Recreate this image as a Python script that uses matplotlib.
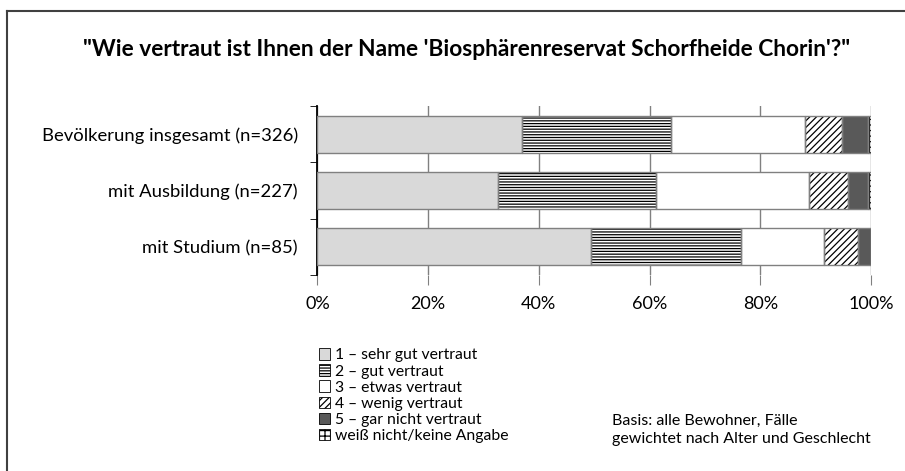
import matplotlib
matplotlib.use("Agg")
import matplotlib.pyplot as plt
from matplotlib.patches import Patch
from matplotlib.lines import Line2D
import numpy as np

plt.rcParams['font.family'] = ['Lato', 'DejaVu Sans']
plt.rcParams['hatch.linewidth'] = 0.9

title = "\"Wie vertraut ist Ihnen der Name 'Biosphärenreservat Schorfheide Chorin'?\""
groups = ["Bevölkerung insgesamt (n=326)", "mit Ausbildung (n=227)", "mit Studium (n=85)"]
answers = ["1 – sehr gut vertraut", "2 – gut vertraut", "3 – etwas vertraut",
           "4 – wenig vertraut", "5 – gar nicht vertraut", "weiß nicht/keine Angabe"]
# percentages per group, one list per answer
sehr_gut = [37.0, 32.6, 49.4]
gut = [26.9, 28.6, 27.1]
etwas = [24.1, 27.6, 15.1]
wenig = [6.8, 7.1, 6.0]
gar_nicht = [4.7, 3.6, 2.4]
weiss_nicht = [0.5, 0.5, 0.0]
note = "Basis: alle Bewohner, Fälle\ngewichtet nach Alter und Geschlecht"

series = [sehr_gut, gut, etwas, wenig, gar_nicht, weiss_nicht]
faces = ["#d9d9d9", "white", "white", "white", "#595959", "white"]
hatches = [None, "------", None, "/////", None, "+++"]

fig = plt.figure(figsize=(9.05, 4.71), dpi=100)
ax = fig.add_axes([0.3508, 0.4161, 0.6116, 0.3588])

y = np.arange(len(groups))
left = np.zeros(len(groups))
for vals, fc, h in zip(series, faces, hatches):
    vals = np.array(vals)
    ax.barh(y, vals, left=left, height=0.66, color=fc, hatch=h,
            edgecolor="black", linewidth=0, zorder=3)
    ax.barh(y, vals, left=left, height=0.66, fill=False,
            edgecolor="#808080", linewidth=1, zorder=4)
    left += vals

ax.set_xlim(0, 100)
ax.set_ylim(len(groups) - 0.5, -0.5)
ax.set_xticks(np.arange(0, 101, 20))
ax.set_xticklabels([f"{v}%" for v in range(0, 101, 20)], fontsize=13)
ax.set_yticks(y)
ax.set_yticklabels(groups, fontsize=13.3)
ax.set_yticks(np.arange(-0.5, len(groups)), minor=True)
ax.tick_params(axis="y", which="major", length=0, pad=14)
ax.tick_params(axis="y", which="minor", length=5, direction="out", color="black")
ax.tick_params(axis="x", length=7, direction="out", color="#808080", pad=8)
ax.grid(axis="x", color="#808080", linewidth=1, zorder=0)
for s in ["top", "right", "bottom"]:
    ax.spines[s].set_visible(False)
ax.spines["left"].set_color("black")
ax.spines["left"].set_linewidth(1.3)

fig.text(0.515, 1 - 50 / 471, title, ha="center", va="center",
         fontsize=16.4, fontweight="bold")

handles = [Patch(facecolor=fc, hatch=h, edgecolor="black", linewidth=0.6)
           for fc, h in zip(faces, hatches)]
fig.legend(handles, answers, loc="upper left", bbox_to_anchor=(0.345, 1 - 342 / 471),
           frameon=False, fontsize=11.3, handlelength=0.75, handleheight=0.75,
           handletextpad=0.3, labelspacing=0.12, borderaxespad=0)

fig.text(612 / 905, 1 - 430 / 471, note, ha="left", va="center", fontsize=11.5,
         linespacing=1.3)

# outer frame
fig.add_artist(Line2D([7 / 905, 7 / 905], [0, 1 - 11 / 471], color="#404040",
                      linewidth=1.5, transform=fig.transFigure))
fig.add_artist(Line2D([7 / 905, 1], [1 - 11 / 471, 1 - 11 / 471], color="#404040",
                      linewidth=1.5, transform=fig.transFigure))

fig.savefig("out.png", dpi=100)
